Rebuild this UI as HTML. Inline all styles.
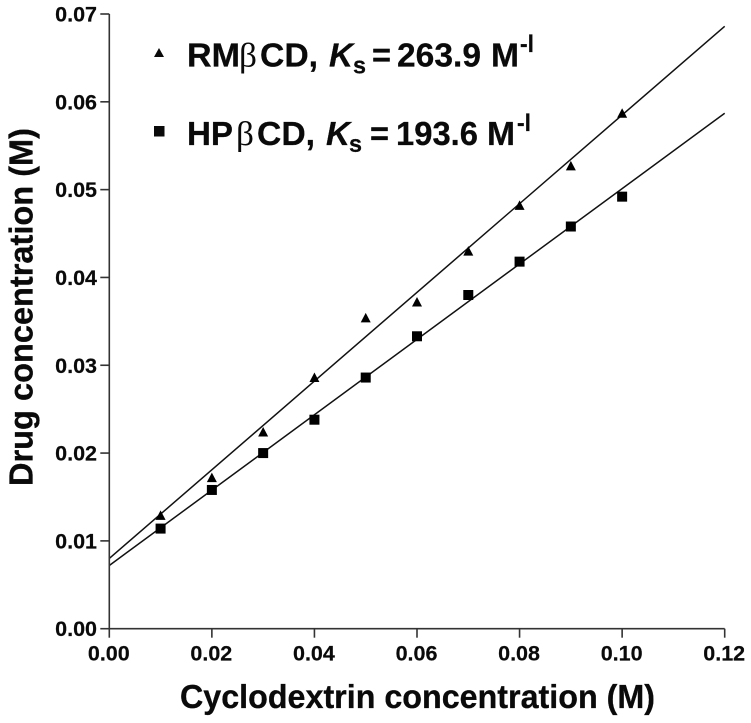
<!DOCTYPE html>
<html lang="en">
<head>
<meta charset="utf-8">
<title>Drug concentration vs cyclodextrin concentration</title>
<style>
html,body{margin:0;padding:0;background:#fff;}
svg{display:block;font-family:"Liberation Sans",Arial,sans-serif;font-weight:bold;fill:#0a0a0a;}
.lg{font-size:33.5px;stroke:#0a0a0a;stroke-width:0.25px;}
.sub{font-size:24px;stroke:#0a0a0a;stroke-width:0.25px;}
.beta{font-family:"Liberation Serif","DejaVu Serif",serif;font-weight:normal;font-size:34px;}
</style>
</head>
<body>
<svg id="chart" width="751" height="723" viewBox="0 0 751 723" xmlns="http://www.w3.org/2000/svg">
  <rect x="0" y="0" width="751" height="723" fill="#fff"/>
  <g id="fit-lines"></g>
  <g id="points"></g>
  <g id="axes"></g>
  <text x="180" y="708" font-size="33" stroke="#0a0a0a" stroke-width="0.3" textLength="475" lengthAdjust="spacingAndGlyphs">Cyclodextrin concentration (M)</text>
  <text transform="translate(32.5,486) rotate(-90)" x="0" y="0" font-size="33" stroke="#0a0a0a" stroke-width="0.3" textLength="358" lengthAdjust="spacingAndGlyphs">Drug concentration (M)</text>

  <g>
    <polygon points="154,57 164,57 159,48"/>
    <text class="lg" x="187" y="66.7" textLength="53" lengthAdjust="spacingAndGlyphs">RM</text>
    <text class="beta" x="239" y="66.7" textLength="18" lengthAdjust="spacingAndGlyphs">β</text>
    <text class="lg" x="260" y="66.7" textLength="58" lengthAdjust="spacingAndGlyphs">CD,</text>
    <text class="lg" font-style="italic" x="329" y="66.7" textLength="24" lengthAdjust="spacingAndGlyphs">K</text>
    <text class="sub" x="353" y="73.5" textLength="13" lengthAdjust="spacingAndGlyphs">s</text>
    <text class="lg" x="372" y="66.7" textLength="19" lengthAdjust="spacingAndGlyphs">=</text>
    <text class="lg" x="397" y="66.7" textLength="84" lengthAdjust="spacingAndGlyphs">263.9</text>
    <text class="lg" x="491" y="66.7" textLength="28" lengthAdjust="spacingAndGlyphs">M</text>
    <text class="sub" x="520" y="52" textLength="14" lengthAdjust="spacingAndGlyphs">-l</text>
  </g>
  <g>
    <rect x="154" y="126" width="10.5" height="10.5"/>
    <text class="lg" x="187" y="145" textLength="46" lengthAdjust="spacingAndGlyphs">HP</text>
    <text class="beta" x="236" y="145" textLength="18" lengthAdjust="spacingAndGlyphs">β</text>
    <text class="lg" x="257" y="145" textLength="58" lengthAdjust="spacingAndGlyphs">CD,</text>
    <text class="lg" font-style="italic" x="326" y="145" textLength="24" lengthAdjust="spacingAndGlyphs">K</text>
    <text class="sub" x="349" y="152" textLength="13" lengthAdjust="spacingAndGlyphs">s</text>
    <text class="lg" x="370" y="145" textLength="19" lengthAdjust="spacingAndGlyphs">=</text>
    <text class="lg" x="396" y="145" textLength="82" lengthAdjust="spacingAndGlyphs">193.6</text>
    <text class="lg" x="487" y="145" textLength="28" lengthAdjust="spacingAndGlyphs">M</text>
    <text class="sub" x="517" y="131" textLength="14" lengthAdjust="spacingAndGlyphs">-l</text>
  </g>
</svg>
<script>
const xTicks = ['0.00','0.02','0.04','0.06','0.08','0.10','0.12'];
const yTicks = ['0.00','0.01','0.02','0.03','0.04','0.05','0.06','0.07'];
const concentrations = [0.01,0.02,0.03,0.04,0.05,0.06,0.07,0.08,0.09,0.10];
const rmValues = [0.0129,0.0172,0.0224,0.0286,0.0354,0.0372,0.0430,0.0482,0.0527,0.0587];
const hpValues = [0.0114,0.0158,0.0200,0.0238,0.0286,0.0333,0.0380,0.0418,0.0458,0.0492];
const rmFitEnds = [0.0080,0.0686];
const hpFitEnds = [0.0072,0.0587];
const xDomain = [0,0.12];
const yDomain = [0,0.07];

const NS = 'http://www.w3.org/2000/svg';
const xScale = v => 109.3 + (v - xDomain[0]) / (xDomain[1] - xDomain[0]) * 615.4;
const yScale = v => 628.7 - (v - yDomain[0]) / (yDomain[1] - yDomain[0]) * 614.7;
const make = (tag, attrs, parent) => {
  const el = document.createElementNS(NS, tag);
  Object.keys(attrs).forEach(k => el.setAttribute(k, attrs[k]));
  parent.appendChild(el);
  return el;
};

const axes = document.getElementById('axes');
const lines = document.getElementById('fit-lines');
const points = document.getElementById('points');
const axisStyle = {stroke:'#333', 'stroke-width':1.6, fill:'none'};
const tickText = {'font-size':21.5, stroke:'#0a0a0a', 'stroke-width':0.2};

const xAxis = make('line', Object.assign({x1:xScale(xDomain[0]), x2:xScale(xDomain[1]), y1:yScale(0), y2:yScale(0)}, axisStyle), axes);


const yAxis = make('line', Object.assign({x1:xScale(0), x2:xScale(0), y1:yScale(yDomain[0]), y2:yScale(yDomain[1])}, axisStyle), axes);



xTicks.forEach(label => {
  const v = parseFloat(label);
  const tick = make('line', Object.assign({x1:xScale(v), x2:xScale(v), y1:yScale(0), y2:yScale(0)+9}, axisStyle), axes);
  
  
  const text = make('text', Object.assign({x:xScale(v)-0.5, y:660.5, 'text-anchor':'middle'}, tickText), axes);
  text.textContent = label;
  
  
});

yTicks.forEach(label => {
  const v = parseFloat(label);
  const tick = make('line', Object.assign({x1:xScale(0)-9, x2:xScale(0), y1:yScale(v), y2:yScale(v)}, axisStyle), axes);
  
  
  const text = make('text', Object.assign({x:97, y:yScale(v)+7.5, 'text-anchor':'end'}, tickText), axes);
  text.textContent = label;
  
  
});

const rmLine = make('line', {x1:xScale(xDomain[0]), y1:yScale(rmFitEnds[0]), x2:xScale(xDomain[1]), y2:yScale(rmFitEnds[1]), stroke:'#111', 'stroke-width':1.5}, lines);


const hpLine = make('line', {x1:xScale(xDomain[0]), y1:yScale(hpFitEnds[0]), x2:xScale(xDomain[1]), y2:yScale(hpFitEnds[1]), stroke:'#111', 'stroke-width':1.5}, lines);



concentrations.forEach((c, i) => {
  const px = xScale(c);
  const ry = yScale(rmValues[i]);
  const tri = make('polygon', {points:`${px-5},${ry+4.5} ${px+5},${ry+4.5} ${px},${ry-5}`, fill:'#000'}, points);
  
  
  const hy = yScale(hpValues[i]);
  const sq = make('rect', {x:px-5, y:hy-5, width:10, height:10, fill:'#000'}, points);
  
  
});
</script>
</body>
</html>
